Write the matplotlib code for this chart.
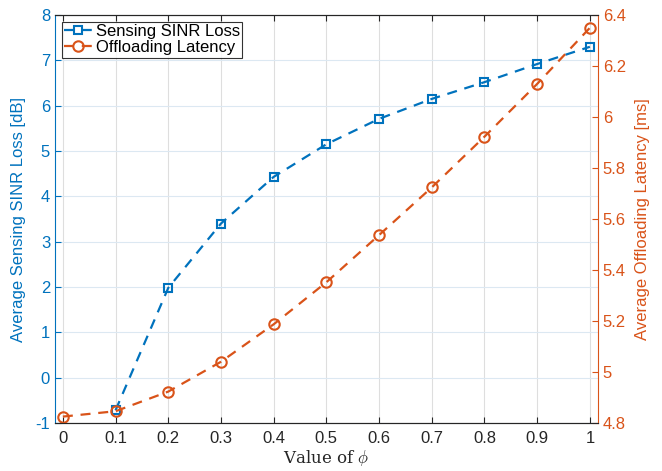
import numpy as np
import matplotlib.pyplot as plt

plt.rcParams['font.family'] = ['Liberation Sans', 'DejaVu Sans']
plt.rcParams['mathtext.fontset'] = 'cm'
plt.rcParams['axes.unicode_minus'] = False

# data
phi_sinr = [0.1, 0.2, 0.3, 0.4, 0.5, 0.6, 0.7, 0.8, 0.9, 1.0]
sinr_loss = [-0.72, 1.98, 3.40, 4.43, 5.15, 5.71, 6.15, 6.52, 6.92, 7.30]
phi_lat = [0.0, 0.1, 0.2, 0.3, 0.4, 0.5, 0.6, 0.7, 0.8, 0.9, 1.0]
latency = [4.825, 4.846, 4.923, 5.04, 5.187, 5.352, 5.537, 5.724, 5.923, 6.13, 6.35]

x_ticks = [0, 0.1, 0.2, 0.3, 0.4, 0.5, 0.6, 0.7, 0.8, 0.9, 1]
x_labels = ['0', '0.1', '0.2', '0.3', '0.4', '0.5', '0.6', '0.7', '0.8', '0.9', '1']
left_ticks = [-1, 0, 1, 2, 3, 4, 5, 6, 7, 8]
right_ticks = [4.8, 5.0, 5.2, 5.4, 5.6, 5.8, 6.0, 6.2, 6.4]
right_labels = ['4.8', '5', '5.2', '5.4', '5.6', '5.8', '6', '6.2', '6.4']

BLUE = '#0072BD'
ORANGE = '#D95319'

fig = plt.figure(figsize=(6.62, 4.71), dpi=100)
ax1 = fig.add_axes([0.083, 0.102, 0.820, 0.866])
ax2 = ax1.twinx()

l1, = ax1.plot(phi_sinr, sinr_loss, '--s', color=BLUE, linewidth=1.6,
               markersize=6, markerfacecolor='none', markeredgewidth=1.5,
               dashes=(4.5, 3.5), label='Sensing SINR Loss')
l2, = ax2.plot(phi_lat, latency, '--o', color=ORANGE, linewidth=1.6,
               markersize=7.5, markerfacecolor='none', markeredgewidth=1.5,
               dashes=(4.5, 3.5), label='Offloading Latency')

ax1.set_xlim(-0.015, 1.015)
ax1.set_ylim(-1, 8)
ax2.set_ylim(4.8, 6.4)
ax1.set_xticks(x_ticks)
ax1.set_xticklabels(x_labels)
ax1.set_yticks(left_ticks)
ax2.set_yticks(right_ticks)
ax2.set_yticklabels(right_labels)

# grid: vertical gray, horizontal bluish (left axis)
for xv in x_ticks:
    ax1.axvline(xv, color='#dedede', linewidth=0.8, zorder=0)
for yv in left_ticks:
    ax1.axhline(yv, color='#dce8f2', linewidth=0.8, zorder=0)

ax1.tick_params(axis='x', direction='in', top=True, labelsize=12, colors='#262626', length=4, pad=6)
ax1.tick_params(axis='y', direction='in', labelsize=12, colors=BLUE, length=4)
ax2.tick_params(axis='y', direction='in', labelsize=12, colors=ORANGE, length=4)

ax1.spines['left'].set_color(BLUE)
ax2.spines['left'].set_visible(False)
ax2.spines['right'].set_color(ORANGE)
for a in (ax1, ax2):
    a.spines['top'].set_color('#262626')
    a.spines['bottom'].set_color('#262626')
ax1.spines['right'].set_visible(False)

ax1.set_xlabel(r'Value of $\phi$', fontsize=12, family='serif', color='#262626', labelpad=1)
ax1.set_ylabel('Average Sensing SINR Loss [dB]', fontsize=12, color=BLUE, labelpad=7)
ax2.set_ylabel('Average Offloading Latency [ms]', fontsize=12, color=ORANGE, labelpad=7)

leg = ax2.legend(handles=[l1, l2], loc='upper left', fontsize=12, frameon=True,
                 fancybox=False, edgecolor='black', borderpad=0.15, handlelength=1.7,
                 handletextpad=0.2, labelspacing=0.05, borderaxespad=0.4)
leg.get_frame().set_linewidth(0.8)

fig.savefig('out.png', dpi=100)
